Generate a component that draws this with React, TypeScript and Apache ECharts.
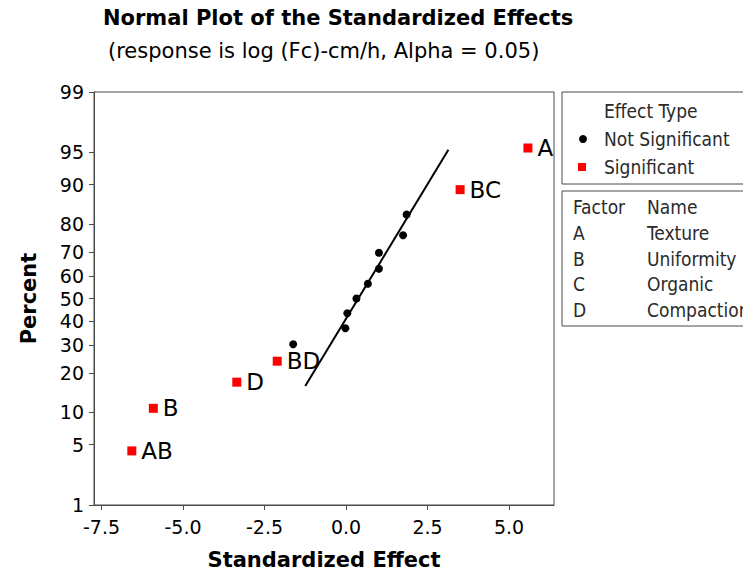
import React, { useEffect, useRef } from "react";
import * as echarts from "echarts";

// Effects judged significant at alpha = 0.05
const sigNames = ["AB", "B", "D", "BD", "BC", "A"];
const sigEffects = [-6.57, -5.91, -3.35, -2.11, 3.5, 5.58];
const sigPercent = [4.3, 10.8, 17.3, 24.0, 89.0, 95.5];

// Remaining effects (not significant)
const nsEffects = [-1.62, -0.02, 0.04, 0.32, 0.67, 1.01, 1.01, 1.75, 1.86];
const nsPercent = [30.3, 36.9, 43.4, 50.0, 56.6, 63.1, 69.7, 76.2, 82.8];

// Reference line for a normal distribution of null effects
const fitEffects = [-1.25, 3.14];
const fitPercent = [16.2, 95.3];

// Axis ticks
const percentTicks = [1, 5, 10, 20, 30, 40, 50, 60, 70, 80, 90, 95, 99];
const effectTicks = [-7.5, -5.0, -2.5, 0.0, 2.5, 5.0];

// Factor table
const factorCodes = ["A", "B", "C", "D"];
const factorNames = ["Texture", "Uniformity", "Organic", "Compaction"];

// Inverse standard normal CDF (Acklam's rational approximation)
function normInv(p: number): number {
  const a = [-3.969683028665376e1, 2.209460984245205e2, -2.759285104469687e2, 1.38357751867269e2, -3.066479806614716e1, 2.506628277459239];
  const b = [-5.447609879822406e1, 1.615858368580409e2, -1.556989798598866e2, 6.680131188771011e1, -1.328068155288572e1];
  const c = [-7.784894002430293e-3, -3.223964580411365e-1, -2.400758284344395, -2.549732539343734, 4.374664141464968, 2.938163982698783];
  const d = [7.784695709041462e-3, 3.224671290700398e-1, 2.445134137142996, 3.754408661907416];
  const pl = 0.02425;
  if (p < pl) {
    const q = Math.sqrt(-2 * Math.log(p));
    return (((((c[0] * q + c[1]) * q + c[2]) * q + c[3]) * q + c[4]) * q + c[5]) / ((((d[0] * q + d[1]) * q + d[2]) * q + d[3]) * q + 1);
  }
  if (p <= 1 - pl) {
    const q = p - 0.5;
    const r = q * q;
    return ((((((a[0] * r + a[1]) * r + a[2]) * r + a[3]) * r + a[4]) * r + a[5]) * q) / (((((b[0] * r + b[1]) * r + b[2]) * r + b[3]) * r + b[4]) * r + 1);
  }
  const q = Math.sqrt(-2 * Math.log(1 - p));
  return -(((((c[0] * q + c[1]) * q + c[2]) * q + c[3]) * q + c[4]) * q + c[5]) / ((((d[0] * q + d[1]) * q + d[2]) * q + d[3]) * q + 1);
}

const z = (pct: number) => normInv(pct / 100);

const SANS = "'DejaVu Sans', sans-serif";
const NARROW = "'DejaVu Sans Condensed', 'DejaVu Sans', sans-serif";
const AXIS_COLOR = "#4a4a4a";

export default function App() {
  const ref = useRef<HTMLDivElement>(null);

  useEffect(() => {
    if (!ref.current) return;
    const chart = echarts.init(ref.current, null, { renderer: "svg" });

    const tickZ = percentTicks.map(z);
    const labelForZ = (v: number) => {
      let best = percentTicks[0];
      let bestD = Infinity;
      percentTicks.forEach((p, i) => {
        const dd = Math.abs(tickZ[i] - v);
        if (dd < bestD) {
          bestD = dd;
          best = p;
        }
      });
      return String(best);
    };

    const legendText = { fontFamily: NARROW, fontSize: 19, fill: "#2a2a2a" };

    chart.setOption({
      animation: false,
      backgroundColor: "#ffffff",
      grid: {
        left: 94,
        right: 197,
        top: 92,
        bottom: 70,
        show: true,
        borderColor: AXIS_COLOR,
        borderWidth: 1,
        backgroundColor: "transparent",
      },
      xAxis: {
        type: "value",
        min: -7.73,
        max: 6.38,
        name: "Standardized Effect",
        nameLocation: "middle",
        nameGap: 44,
        nameTextStyle: { fontFamily: SANS, fontSize: 21, fontWeight: "bold", color: "#000" },
        axisLine: { show: true, onZero: false, lineStyle: { color: AXIS_COLOR } },
        axisTick: { show: true, length: 5, lineStyle: { color: AXIS_COLOR }, customValues: effectTicks },
        axisLabel: {
          fontFamily: SANS,
          fontSize: 19,
          color: "#000",
          margin: 12,
          customValues: effectTicks,
          formatter: (v: number) => v.toFixed(1),
        },
        splitLine: { show: false },
      },
      yAxis: {
        type: "value",
        min: z(1),
        max: z(99),
        name: "Percent",
        nameLocation: "middle",
        nameGap: 55,
        nameTextStyle: { fontFamily: SANS, fontSize: 21, fontWeight: "bold", color: "#000" },
        axisLine: { show: true, onZero: false, lineStyle: { color: AXIS_COLOR } },
        axisTick: { show: true, length: 5, lineStyle: { color: AXIS_COLOR }, customValues: tickZ },
        axisLabel: {
          fontFamily: SANS,
          fontSize: 19,
          color: "#000",
          margin: 10,
          customValues: tickZ,
          formatter: (v: number) => labelForZ(v),
        },
        splitLine: { show: false },
      },
      series: [
        {
          name: "Fit",
          type: "line",
          data: fitEffects.map((x, i) => [x, z(fitPercent[i])]),
          showSymbol: false,
          lineStyle: { color: "#000", width: 2 },
          silent: true,
          z: 2,
        },
        {
          name: "Not Significant",
          type: "scatter",
          data: nsEffects.map((x, i) => [x, z(nsPercent[i])]),
          symbol: "circle",
          symbolSize: 8,
          itemStyle: { color: "#000", opacity: 1 },
          z: 3,
        },
        {
          name: "Significant",
          type: "scatter",
          data: sigEffects.map((x, i) => ({ value: [x, z(sigPercent[i])], name: sigNames[i] })),
          symbol: "rect",
          symbolSize: 9,
          itemStyle: { color: "#ff0000", opacity: 1 },
          label: {
            show: true,
            position: "right",
            distance: 5,
            formatter: (p: any) => p.name,
            fontFamily: SANS,
            fontSize: 23,
            color: "#000",
          },
          z: 4,
        },
      ],
      graphic: [
        // Titles
        {
          type: "text",
          x: 103,
          y: 18,
          style: {
            text: "Normal Plot of the Standardized Effects",
            fontFamily: SANS,
            fontSize: 21,
            fontWeight: "bold",
            fill: "#000",
            verticalAlign: "middle",
          },
        },
        {
          type: "text",
          x: 108,
          y: 51,
          style: {
            text: "(response is log (Fc)-cm/h, Alpha = 0.05)",
            fontFamily: SANS,
            fontSize: 21,
            fill: "#000",
            verticalAlign: "middle",
          },
        },
        // Effect type legend
        {
          type: "rect",
          shape: { x: 562, y: 92, width: 220, height: 92 },
          style: { fill: "#fff", stroke: AXIS_COLOR, lineWidth: 1 },
        },
        { type: "text", x: 604, y: 111, style: { ...legendText, text: "Effect Type", verticalAlign: "middle" } },
        { type: "circle", shape: { cx: 583, cy: 139, r: 4 }, style: { fill: "#000" } },
        { type: "text", x: 604, y: 139, style: { ...legendText, text: "Not Significant", verticalAlign: "middle" } },
        { type: "rect", shape: { x: 578, y: 163, width: 8, height: 8 }, style: { fill: "#ff0000" } },
        { type: "text", x: 604, y: 167, style: { ...legendText, text: "Significant", verticalAlign: "middle" } },
        // Factor table
        {
          type: "rect",
          shape: { x: 562, y: 191, width: 220, height: 135 },
          style: { fill: "#fff", stroke: AXIS_COLOR, lineWidth: 1 },
        },
        { type: "text", x: 573, y: 207, style: { ...legendText, text: "Factor", verticalAlign: "middle" } },
        { type: "text", x: 647, y: 207, style: { ...legendText, text: "Name", verticalAlign: "middle" } },
        ...factorCodes.flatMap((code, i) => [
          { type: "text", x: 573, y: 233 + i * 25.5, style: { ...legendText, text: code, verticalAlign: "middle" } },
          {
            type: "text",
            x: 647,
            y: 233 + i * 25.5,
            style: { ...legendText, text: factorNames[i], verticalAlign: "middle" },
          },
        ]),
      ],
    });

    return () => chart.dispose();
  }, []);

  return <div ref={ref} style={{ width: 751, height: 575, margin: -8 }} />;
}
